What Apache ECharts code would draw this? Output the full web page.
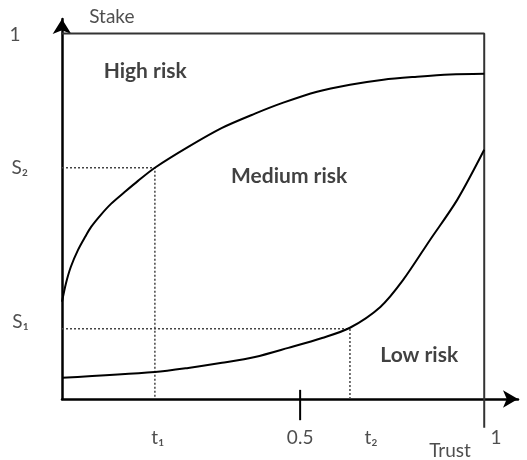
<!DOCTYPE html>
<html>
<head>
<meta charset="utf-8">
<script src="https://cdn.jsdelivr.net/npm/echarts@6/dist/echarts.min.js"></script>
<style>
  html, body { margin: 0; padding: 0; background: #fff; }
  #chart { width: 527px; height: 460px; }
</style>
</head>
<body>
<div id="chart"></div>
<script>
// trust (x) / stake (y) values
const upperTrust = [0, 0.009, 0.021, 0.038, 0.055, 0.069, 0.092, 0.116, 0.149, 0.180, 0.220, 0.299, 0.379, 0.457, 0.524, 0.604, 0.682, 0.761, 0.841, 0.919, 1.0]
const upperStake = [0.266, 0.315, 0.362, 0.408, 0.444, 0.471, 0.504, 0.534, 0.567, 0.597, 0.633, 0.690, 0.742, 0.781, 0.811, 0.841, 0.860, 0.874, 0.882, 0.888, 0.890]
const lowerTrust = [0, 0.220, 0.299, 0.379, 0.457, 0.536, 0.616, 0.682, 0.754, 0.808, 0.872, 0.936, 1.0]
const lowerStake = [0.058, 0.074, 0.085, 0.099, 0.115, 0.140, 0.167, 0.195, 0.252, 0.326, 0.436, 0.545, 0.682]
const t1 = 0.220
const t2 = 0.682
const s1 = 0.192
const s2 = 0.633
const halfTickAt = 0.564 // where the "0.5" tick is drawn in the figure

// text annotations: [trust, stake, text, bold]
const annotations = [
  [0.118, 1.047, 'Stake', false],
  [-0.111, 0.997, '1', false],
  [-0.100, 0.633, 'S\u2082', false],
  [-0.098, 0.211, 'S\u2081', false],
  [0.197, 0.896, 'High risk', true],
  [0.538, 0.611, 'Medium risk', true],
  [0.846, 0.121, 'Low risk', true],
  [0.227, -0.107, 't\u2081', false],
  [0.564, -0.107, '0.5', false],
  [0.732, -0.107, 't\u2082', false],
  [1.028, -0.107, '1', false],
  [0.919, -0.142, 'Trust', false]
]

const zip = (xs, ys) => xs.map((x, i) => [x, ys[i]])
const font = 'Lato, "Open Sans", sans-serif'

let chart = echarts.init(document.getElementById('chart'))
let options = {
  animation: false,
  grid: { left: 62, right: 9, top: 19, bottom: 61 },
  xAxis: {
    type: 'value',
    min: 0,
    max: 1.08,
    axisLine: {
      onZero: false,
      symbol: ['none', 'arrow'],
      symbolSize: [13, 15],
      lineStyle: { color: '#000', width: 2.5 }
    },
    axisTick: { show: false },
    axisLabel: { show: false },
    splitLine: { show: false }
  },
  yAxis: {
    type: 'value',
    min: 0,
    max: 1.04,
    axisLine: {
      onZero: false,
      symbol: ['none', 'arrow'],
      symbolSize: [14, 15],
      lineStyle: { color: '#000', width: 2.5 }
    },
    axisTick: { show: false },
    axisLabel: { show: false },
    splitLine: { show: false }
  },
  series: [
    {
      name: 'frame',
      type: 'line',
      clip: false,
      symbol: 'none',
      data: [[-0.045, 1], [1, 1], [1, -0.079]],
      lineStyle: { color: '#333', width: 2 }
    },
    {
      name: 'half tick',
      type: 'line',
      clip: false,
      symbol: 'none',
      data: [[halfTickAt, 0.025], [halfTickAt, -0.058]],
      lineStyle: { color: '#000', width: 2 }
    },
    {
      name: 'guide s2',
      type: 'line',
      symbol: 'none',
      data: [[0, s2], [t1, s2], [t1, 0]],
      lineStyle: { color: '#444', width: 1.5, type: [2, 2] }
    },
    {
      name: 'guide s1',
      type: 'line',
      symbol: 'none',
      data: [[0, s1], [t2, s1], [t2, 0]],
      lineStyle: { color: '#444', width: 1.5, type: [2, 2] }
    },
    {
      name: 'upper',
      type: 'line',
      smooth: 0.3,
      symbol: 'none',
      data: zip(upperTrust, upperStake),
      lineStyle: { color: '#000', width: 2 }
    },
    {
      name: 'lower',
      type: 'line',
      smooth: 0.3,
      symbol: 'none',
      data: zip(lowerTrust, lowerStake),
      lineStyle: { color: '#000', width: 2 }
    },
    {
      name: 'text',
      type: 'scatter',
      clip: false,
      symbolSize: 0,
      silent: true,
      data: annotations.map(a => ({ value: [a[0], a[1]], name: a[2], bold: a[3] })),
      label: {
        show: true,
        position: 'inside',
        formatter: p => p.data.bold ? '{b|' + p.name + '}' : '{n|' + p.name + '}',
        rich: {
          n: { fontFamily: font, fontSize: 19, color: '#222' },
          b: { fontFamily: font, fontSize: 21, fontWeight: 'bold', color: '#111' }
        }
      }
    }
  ]
}
chart.setOption(options)
</script>
</body>
</html>
